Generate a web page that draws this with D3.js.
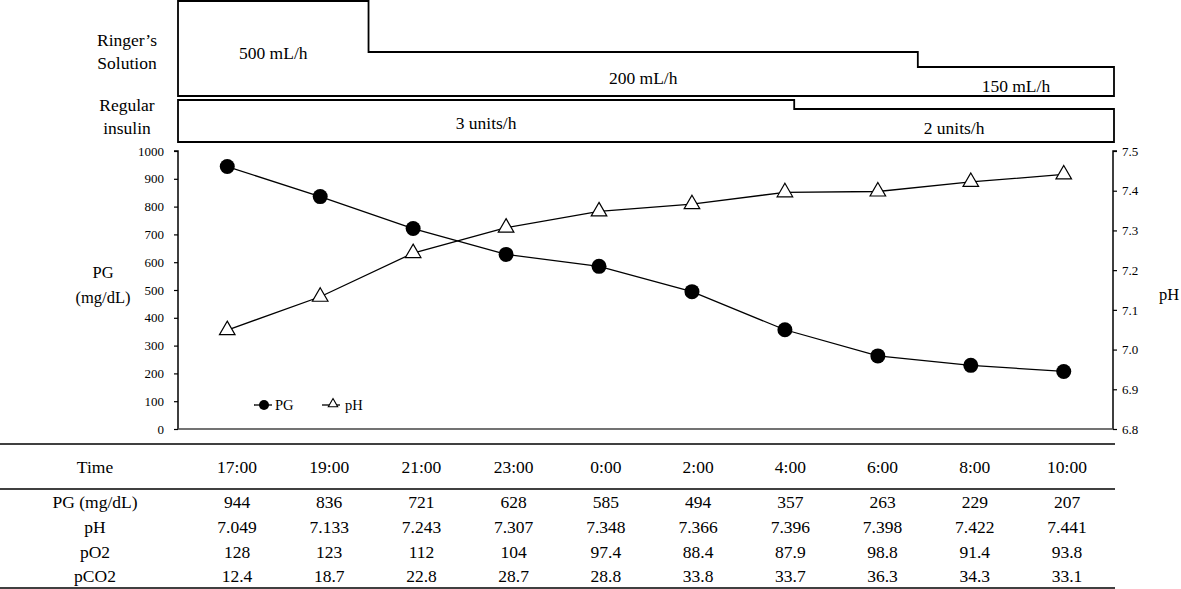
<!DOCTYPE html>
<html><head><meta charset="utf-8">
<script src="https://cdn.jsdelivr.net/npm/d3@7"></script>
<style>body{margin:0;background:#fff}svg{display:block}svg text{font-family:"Liberation Serif","Times New Roman",Tinos,"DejaVu Serif",serif !important;fill:#000}</style>
</head><body><svg id="c" width="1181" height="589" font-family="Liberation Serif, serif"></svg>
<script>
const times = ["17:00","19:00","21:00","23:00","0:00","2:00","4:00","6:00","8:00","10:00"];
const pgValues = [944,836,721,628,585,494,357,263,229,207];
const phValues = [7.049,7.133,7.243,7.307,7.348,7.366,7.396,7.398,7.422,7.441];
const po2Values = [128,123,112,104,97.4,88.4,87.9,98.8,91.4,93.8];
const pco2Values = [12.4,18.7,22.8,28.7,28.8,33.8,33.7,36.3,34.3,33.1];
const pgTicks = [0,100,200,300,400,500,600,700,800,900,1000];
const phTicks = [6.8,6.9,7.0,7.1,7.2,7.3,7.4,7.5];
// infusion segments: boundaries in time-index units (fractional), rates
const ringerBounds = [1.52, 7.43];
const ringerRates = [500, 200, 150];
const ringerLabels = ["500 mL/h","200 mL/h","150 mL/h"];
const insulinBounds = [6.1];
const insulinRates = [3, 2];
const insulinLabels = ["3 units/h","2 units/h"];

const svg = d3.select("#c");
const FONT = "Liberation Serif, Times New Roman, serif";
const L = 178, R = 1113, T = 151, B = 429;

const x = d3.scalePoint().domain(times).range([L, R]).padding(0.53);
const step = x.step();
const idx = d3.scaleLinear().domain([0, 1]).range([x(times[0]), x(times[0]) + step]);
const yPG = d3.scaleLinear().domain([0, 1000]).range([B, T]);
const yPH = d3.scaleLinear().domain([6.8, 7.5]).range([B, T]);

function txt(xx, yy, s, size, anchor) {
  return svg.append("text").attr("x", xx).attr("y", yy).attr("dy", "0.35em")
    .attr("text-anchor", anchor || "middle").attr("font-size", size).attr("font-family", FONT).text(s);
}

// ---------- infusion boxes ----------
const ringerY = d3.scaleLinear().domain([0, 150, 200, 500]).range([96, 67, 52, 1]);
const insulinY = d3.scaleLinear().domain([0, 2, 3]).range([142, 109, 100]);

function stepPath(bounds, rates, yS) {
  const xs = [L, ...bounds.map(b => idx(b)), R + 1];
  const p = d3.path();
  p.moveTo(xs[0], yS(0));
  p.lineTo(xs[0], yS(rates[0]));
  for (let i = 0; i < rates.length; i++) {
    p.lineTo(xs[i + 1], yS(rates[i]));
    if (i + 1 < rates.length) p.lineTo(xs[i + 1], yS(rates[i + 1]));
  }
  p.lineTo(xs[xs.length - 1], yS(0));
  p.closePath();
  return {d: p.toString(), xs};
}
function drawBox(bounds, rates, labels, yS, dyOff) {
  const r = stepPath(bounds, rates, yS);
  svg.append("path").attr("d", r.d).attr("fill", "none").attr("stroke", "#000").attr("stroke-width", 1.8);
  labels.forEach((lab, i) => {
    const cx = (r.xs[i] + r.xs[i + 1]) / 2;
    const cy = (yS(rates[i]) + yS(0)) / 2 + dyOff;
    txt(cx, cy, lab, 17.5);
  });
}
drawBox(ringerBounds, ringerRates, ringerLabels, ringerY, 4);
drawBox(insulinBounds, insulinRates, insulinLabels, insulinY, 2);

const sideLab = [["Ringer\u2019s", 40], ["Solution", 63], ["Regular", 105], ["insulin", 128]];
sideLab.forEach(([t, yy]) => txt(127, yy, t, 17.5));

// ---------- axes ----------
const gl = svg.append("g").attr("transform", `translate(${L},0)`)
  .call(d3.axisLeft(yPG).tickValues(pgTicks).tickSize(4).tickPadding(10).tickFormat(d3.format("d")));
const gr = svg.append("g").attr("transform", `translate(${R},0)`)
  .call(d3.axisRight(yPH).tickValues(phTicks).tickSize(4).tickPadding(5).tickFormat(d3.format(".1f")));
[gl, gr].forEach(g => {
  g.attr("font-family", FONT);
  g.select(".domain").attr("stroke", "#000").attr("stroke-width", 1.5).attr("d", g === gl ? `M-4,${T}H0V${B}` : `M4,${T}H0V${B}`);
  g.selectAll(".tick line").attr("stroke", "#000").attr("stroke-width", 1.2);
  g.selectAll(".tick text").attr("font-size", 13).attr("font-family", FONT).attr("fill", "#000");
});
svg.append("line").attr("x1", L).attr("x2", R).attr("y1", B).attr("y2", B).attr("stroke", "#444").attr("stroke-width", 1.5);

txt(103, 272, "PG", 16.5);
txt(103, 297, "(mg/dL)", 16.5);
txt(1169, 294, "pH", 16.5);

// ---------- series ----------
const linePG = d3.line().x((d, i) => x(times[i])).y(d => yPG(d));
const linePH = d3.line().x((d, i) => x(times[i])).y(d => yPH(d));
svg.append("path").attr("d", linePG(pgValues)).attr("fill", "none").attr("stroke", "#000").attr("stroke-width", 1.3);
svg.append("path").attr("d", linePH(phValues)).attr("fill", "none").attr("stroke", "#000").attr("stroke-width", 1.3);
svg.selectAll(".pg").data(pgValues).join("circle").attr("class", "pg")
  .attr("cx", (d, i) => x(times[i])).attr("cy", d => yPG(d)).attr("r", 7.5).attr("fill", "#000");
const tri = d3.symbol().type(d3.symbolTriangle).size(105);
svg.selectAll(".ph").data(phValues).join("path").attr("class", "ph")
  .attr("transform", (d, i) => `translate(${x(times[i])},${yPH(d)})`).attr("d", tri())
  .attr("fill", "#fff").attr("stroke", "#000").attr("stroke-width", 1.2);

// ---------- legend ----------
const ly = 405;
svg.append("line").attr("x1", 254).attr("x2", 272).attr("y1", ly).attr("y2", ly).attr("stroke", "#000").attr("stroke-width", 1.3);
svg.append("circle").attr("cx", 264).attr("cy", ly).attr("r", 5).attr("fill", "#000");
txt(275, ly, "PG", 14.5, "start");
svg.append("line").attr("x1", 322).attr("x2", 340).attr("y1", ly).attr("y2", ly).attr("stroke", "#000").attr("stroke-width", 1.3);
svg.append("path").attr("transform", `translate(333,${ly - 1})`).attr("d", d3.symbol().type(d3.symbolTriangle).size(38)())
  .attr("fill", "#fff").attr("stroke", "#000").attr("stroke-width", 1.1);
txt(345, ly, "pH", 14.5, "start");

// ---------- table ----------
const tx = d3.scalePoint().domain(times).range([237, 1067]);
const labelX = 95;
const tableRight = 1115;
[444, 489, 588].forEach(yy => svg.append("line").attr("x1", 0).attr("x2", tableRight)
  .attr("y1", yy).attr("y2", yy).attr("stroke", "#000").attr("stroke-width", 1.5));
const tableRows = [
  {label: "Time", y: 467, vals: times},
  {label: "PG (mg/dL)", y: 502, vals: pgValues.map(String)},
  {label: "pH", y: 527, vals: phValues.map(d3.format(".3f"))},
  {label: "pO2", y: 552, vals: po2Values.map(String)},
  {label: "pCO2", y: 576, vals: pco2Values.map(String)}
];
tableRows.forEach(row => {
  txt(labelX, row.y, row.label, 17.5);
  row.vals.forEach((v, i) => txt(tx(times[i]), row.y, v, 17.5));
});
</script></body></html>
